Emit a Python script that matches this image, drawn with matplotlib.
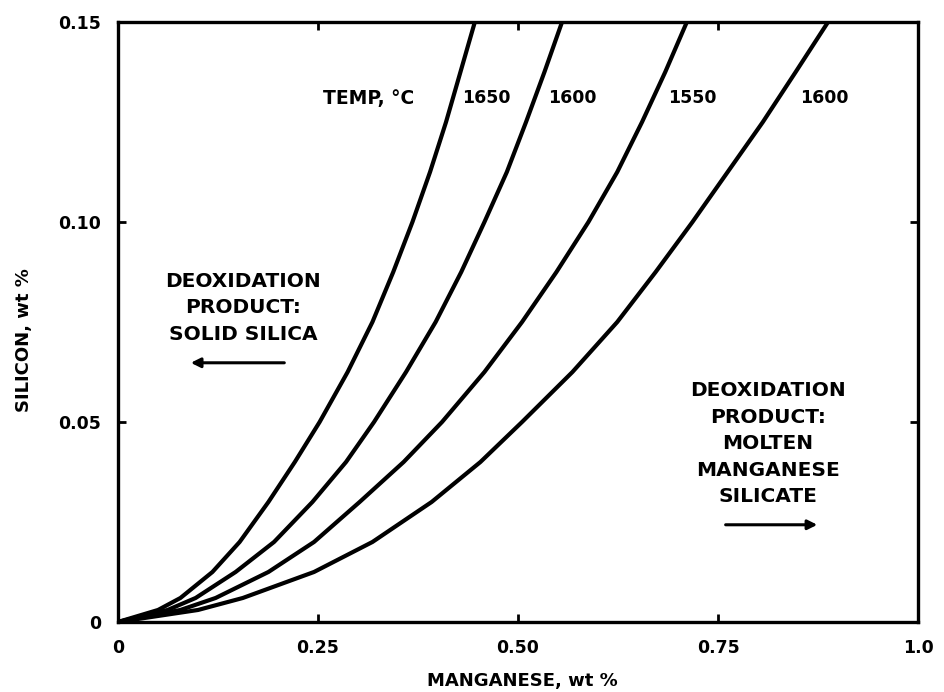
import numpy as np
import matplotlib
matplotlib.use('Agg')
from matplotlib import pyplot as plt
from matplotlib.ticker import FixedLocator, FixedFormatter

# silicon levels (wt %) at which the manganese value of each curve was read
silicon = [0, 0.003, 0.006, 0.0125, 0.02, 0.03, 0.04, 0.05, 0.0625,
           0.075, 0.0875, 0.10, 0.1125, 0.125, 0.1375, 0.15]

# manganese (wt %) on each isotherm
mn_1650 = [0, 0.05, 0.078, 0.118, 0.152, 0.188, 0.221, 0.252, 0.287,
           0.318, 0.344, 0.368, 0.39, 0.41, 0.428, 0.446]
mn_1600 = [0, 0.062, 0.097, 0.147, 0.195, 0.243, 0.285, 0.32, 0.36,
           0.397, 0.429, 0.458, 0.486, 0.51, 0.533, 0.555]
mn_1550 = [0, 0.078, 0.122, 0.188, 0.245, 0.302, 0.357, 0.405, 0.458,
           0.505, 0.548, 0.588, 0.624, 0.655, 0.684, 0.711]
mn_1500 = [0, 0.10, 0.156, 0.245, 0.318, 0.392, 0.453, 0.505, 0.568,
           0.624, 0.672, 0.718, 0.762, 0.806, 0.847, 0.8875]

curves = [mn_1650, mn_1600, mn_1550, mn_1500]
temp_labels = ['1650', '1600', '1550', '1600']

x_ticks = [0, 0.25, 0.50, 0.75, 1.0]
x_ticklabels = ['0', '0.25', '0.50', '0.75', '1.0']
y_ticks = [0, 0.05, 0.10, 0.15]
y_ticklabels = ['0', '0.05', '0.10', '0.15']

plt.rcParams['font.family'] = ['DejaVu Sans']
plt.rcParams['font.weight'] = 'bold'

fig = plt.figure(figsize=(9.45, 6.92), dpi=100)
ax = fig.add_axes([0.1249, 0.1012, 0.8466, 0.867])

for mn in curves:
    ax.plot(mn, silicon, color='black', linewidth=3.0, solid_capstyle='round',
            solid_joinstyle='round')

ax.set_xlim(0, 1.0)
ax.set_ylim(0, 0.15)

ax.xaxis.set_major_locator(FixedLocator(x_ticks))
ax.xaxis.set_major_formatter(FixedFormatter(x_ticklabels))
ax.yaxis.set_major_locator(FixedLocator(y_ticks))
ax.yaxis.set_major_formatter(FixedFormatter(y_ticklabels))
ax.tick_params(direction='in', length=6, width=2, top=True, right=True,
               labelsize=12.5, pad=12)
for lab in ax.get_xticklabels() + ax.get_yticklabels():
    lab.set_fontweight('bold')

for sp in ax.spines.values():
    sp.set_linewidth(2.4)
    sp.set_color('black')

ax.set_xlabel('MANGANESE, wt %', fontsize=13, fontweight='bold')
ax.set_ylabel('SILICON, wt %', fontsize=13, fontweight='bold')
ax.xaxis.set_label_coords(0.506, -0.083)
ax.yaxis.set_label_coords(-0.106, 0.47)

# temperature labels along the top
ax.text(0.256, 0.131, 'TEMP, \u00b0C', fontsize=13.5, fontweight='bold',
        ha='left', va='center')
for xpos, lab in zip([0.43, 0.5375, 0.6875, 0.8525], temp_labels):
    ax.text(xpos, 0.131, lab, fontsize=12.5, fontweight='bold',
            ha='left', va='center')

ax.text(0.156, 0.0785, 'DEOXIDATION\nPRODUCT:\nSOLID SILICA', fontsize=14.5,
        fontweight='bold', ha='center', va='center', linespacing=1.5)
ax.annotate('', xy=(0.0875, 0.0648), xytext=(0.2113, 0.0648),
            arrowprops=dict(arrowstyle='-|>', color='black', lw=2.2,
                            mutation_scale=14))

ax.text(0.8125, 0.0445, 'DEOXIDATION\nPRODUCT:\nMOLTEN\nMANGANESE\nSILICATE',
        fontsize=14.5, fontweight='bold', ha='center', va='center',
        linespacing=1.5)
ax.annotate('', xy=(0.8775, 0.0243), xytext=(0.756, 0.0243),
            arrowprops=dict(arrowstyle='-|>', color='black', lw=2.2,
                            mutation_scale=14))

fig.savefig('out.png', dpi=100)
